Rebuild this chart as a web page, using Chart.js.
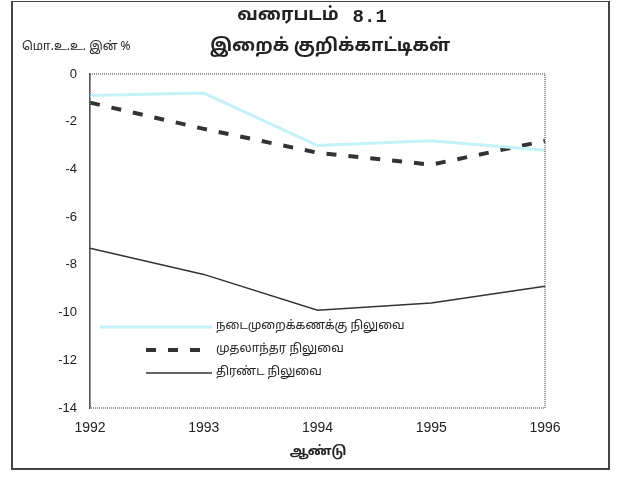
<!DOCTYPE html>
<html>
<head>
<meta charset="utf-8">
<script src="https://cdn.jsdelivr.net/npm/chart.js@4/dist/chart.umd.min.js"></script>
<style>
  html, body { margin: 0; padding: 0; background: #fff; }
  #wrap { position: relative; width: 617px; height: 484px; }
  #frame {
    position: absolute; left: 11px; top: 1px; width: 599px; height: 469px;
    border: 2px solid #444; border-top-width: 1px; box-sizing: border-box;
    pointer-events: none;
  }
</style>
</head>
<body>
<div id="wrap">
  <canvas id="chart" width="617" height="484"></canvas>
  <div id="frame"></div>
</div>
<script>
  // வரைபடம் 8.1 — இறைக் குறிக்காட்டிகள் (மொ.உ.உ. இன் %)
  const years = ['1992', '1993', '1994', '1995', '1996'];
  const currentAccount = [-0.9, -0.8, -3.0, -2.8, -3.2];
  const capitalBalance = [-1.2, -2.3, -3.3, -3.8, -2.8];
  const overallBalance = [-7.3, -8.4, -9.9, -9.6, -8.9];
  const yTicks = [0, -2, -4, -6, -8, -10, -12, -14];

  const seriesNames = [
    'நடைமுறைக்கணக்கு நிலுவை',
    'முதலாந்தர நிலுவை',
    'திரண்ட நிலுவை',
  ];

  const INK = '#222';
  const TAMIL = '"Noto Sans Tamil", "Latha", "Noto Sans", sans-serif';

  // Titel, Einheit und Legende werden direkt auf die Fläche gezeichnet.
  const decorations = {
    id: 'decorations',
    afterDraw(chart) {
      const ctx = chart.ctx;
      const area = chart.chartArea;
      ctx.save();
      ctx.fillStyle = INK;
      ctx.textBaseline = 'middle';

      // Titelzeile: Tamil-Wort + Nummer in Schreibmaschinenschrift
      ctx.textAlign = 'left';
      ctx.font = 'bold 18px ' + TAMIL;
      const word = 'வரைபடம்';
      const wordW = ctx.measureText(word).width;
      ctx.font = 'bold 19px "Liberation Mono", "DejaVu Sans Mono", monospace';
      const num = '8.1';
      const numW = ctx.measureText(num).width;
      const start = 312 - (wordW + 14 + numW) / 2;
      ctx.font = 'bold 18px ' + TAMIL;
      ctx.fillText(word, start, 16);
      ctx.font = 'bold 19px "Liberation Mono", "DejaVu Sans Mono", monospace';
      ctx.fillText(num, start + wordW + 14, 17);

      ctx.textAlign = 'center';
      ctx.font = 'bold 18px ' + TAMIL;
      ctx.fillText('இறைக் குறிக்காட்டிகள்', 330, 47);

      ctx.textAlign = 'left';
      ctx.font = '12px ' + TAMIL;
      ctx.fillText('மொ.உ.உ. இன் %', 22, 48);

      ctx.textAlign = 'center';
      ctx.font = 'bold 13px ' + TAMIL;
      ctx.fillText('ஆண்டு', 318, 452);

      // Legende unten links im Plotbereich
      const rows = [327, 350, 373];
      chart.data.datasets.forEach((ds, i) => {
        const y = rows[i];
        ctx.beginPath();
        ctx.strokeStyle = ds.borderColor;
        ctx.lineWidth = ds.borderWidth;
        ctx.setLineDash(ds.borderDash || []);
        ctx.moveTo(i === 0 ? 100 : 146, y);
        ctx.lineTo(212, y);
        ctx.stroke();
        ctx.setLineDash([]);
        ctx.fillStyle = INK;
        ctx.textAlign = 'left';
        ctx.font = '12px ' + TAMIL;
        ctx.fillText(ds.label, 216, y);
      });

      // gepunkteter Rahmen des Plotbereichs
      ctx.strokeStyle = '#777';
      ctx.lineWidth = 1.5;
      ctx.setLineDash([1, 1]);
      ctx.strokeRect(area.left, area.top, area.right - area.left, area.bottom - area.top);
      ctx.setLineDash([]);
      ctx.restore();
    },
  };

  new Chart(document.getElementById('chart'), {
    type: 'line',
    data: {
      labels: years,
      datasets: [
        {
          label: seriesNames[0],
          data: currentAccount,
          borderColor: '#c4f2f6',
          borderWidth: 3,
          pointRadius: 0,
          tension: 0,
        },
        {
          label: seriesNames[1],
          data: capitalBalance,
          borderColor: '#333',
          borderWidth: 4,
          borderDash: [10, 12],
          pointRadius: 0,
          tension: 0,
        },
        {
          label: seriesNames[2],
          data: overallBalance,
          borderColor: '#333',
          borderWidth: 1.5,
          pointRadius: 0,
          tension: 0,
        },
      ],
    },
    options: {
      responsive: false,
      animation: false,
      layout: { padding: { left: 0, right: 72, top: 74, bottom: 0 } },
      plugins: {
        legend: { display: false },
        tooltip: { enabled: false },
      },
      scales: {
        x: {
          offset: false,
          grid: { display: false, drawTicks: false },
          border: { display: false },
          ticks: {
            color: INK,
            font: { family: 'Liberation Sans, Arial, sans-serif', size: 14 },
            padding: 12,
            maxRotation: 0,
          },
          afterFit: (scale) => { scale.height = 76; },
        },
        y: {
          min: yTicks[yTicks.length - 1],
          max: yTicks[0],
          grid: { display: false, drawTicks: true, tickLength: 5 },
          border: { display: true, color: '#444', width: 1.5 },
          ticks: {
            stepSize: 2,
            color: INK,
            font: { family: 'Liberation Sans, Arial, sans-serif', size: 13 },
            padding: 8,
          },
          afterFit: (scale) => { scale.width = 90; },
        },
      },
    },
    plugins: [decorations],
  });
</script>
</body>
</html>
